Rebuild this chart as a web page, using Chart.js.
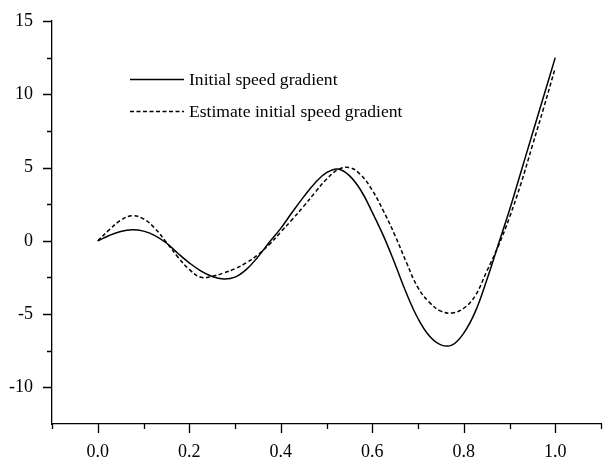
<!DOCTYPE html>
<html>
<head>
<meta charset="utf-8">
<script src="https://cdn.jsdelivr.net/npm/chart.js@4.4.1/dist/chart.umd.min.js"></script>
<style>
    html, body { margin: 0; padding: 0; background: #ffffff; }
    #wrap { width: 604px; height: 460px; }
</style>
</head>
<body>
<div id="wrap"><canvas id="chart" width="604" height="460"></canvas></div>
<script>
// x positions of the samples
const xValues = [
    0, 0.025, 0.05, 0.075, 0.1, 0.125, 0.15, 0.175, 0.2, 0.225,
    0.25, 0.275, 0.3, 0.325, 0.35, 0.375, 0.4, 0.425, 0.45, 0.475,
    0.5, 0.525, 0.55, 0.575, 0.6, 0.625, 0.65, 0.675, 0.7, 0.725,
    0.75, 0.775, 0.8, 0.825, 0.85, 0.875, 0.9, 0.925, 0.95, 0.975, 1.0
];

// solid curve
const initialGradient = [
    0, 0.36, 0.63, 0.75, 0.66, 0.36, -0.15, -0.85, -1.5, -2.05,
    -2.43, -2.6, -2.48, -1.95, -1.1, -0.1, 0.85, 1.95, 3.0, 3.95,
    4.65, 4.9, 4.45, 3.45, 1.95, 0.3, -1.6, -3.6, -5.3, -6.5,
    -7.1, -7.1, -6.3, -4.85, -2.7, -0.3, 2.1, 4.7, 7.3, 9.9, 12.5
];

// dashed curve
const estimateGradient = [
    0, 0.75, 1.4, 1.71, 1.5, 0.85, -0.1, -1.1, -1.95, -2.48,
    -2.42, -2.2, -1.9, -1.5, -0.95, -0.25, 0.6, 1.45, 2.35, 3.3,
    4.2, 4.85, 5.0, 4.5, 3.45, 2.0, 0.35, -1.5, -3.2, -4.2,
    -4.8, -4.92, -4.6, -3.75, -2.1, -0.4, 1.6, 3.9, 6.5, 9.1, 11.8
];

const seriesLabels = ['Initial speed gradient', 'Estimate initial speed gradient'];

// axis ranges and labelled ticks
const xRange = [-0.1, 1.1];
const yRange = [-12.5, 15];
const xTickLabels = ['0.0', '0.2', '0.4', '0.6', '0.8', '1.0'];
const yTickLabels = ['-10', '-5', '0', '5', '10', '15'];

const FONT = '"Liberation Serif", "Times New Roman", serif';

function toPoints(ys) {
    return xValues.map((x, i) => ({ x: x, y: ys[i] }));
}

// tick marks: long ones at labelled values, short ones in between
const tickMarks = {
    id: 'tickMarks',
    afterDraw: function(chart) {
        const ctx = chart.ctx;
        const xs = chart.scales.x;
        const ys = chart.scales.y;
        ctx.save();
        ctx.strokeStyle = '#000';
        ctx.lineWidth = 1.3;
        ctx.beginPath();
        xs.ticks.forEach(t => {
            const px = Math.round(xs.getPixelForValue(t.value)) + 0.5;
            const major = xTickLabels.includes(t.value.toFixed(1));
            ctx.moveTo(px, xs.top);
            ctx.lineTo(px, xs.top + (major ? 9 : 5));
        });
        ys.ticks.forEach(t => {
            if (t.value <= yRange[0]) return;
            const py = Math.round(ys.getPixelForValue(t.value)) + 0.5;
            const major = yTickLabels.includes(String(t.value));
            ctx.moveTo(ys.right, py);
            ctx.lineTo(ys.right - (major ? 9 : 5), py);
        });
        ctx.stroke();
        ctx.restore();
    }
};

// legend drawn inside the plot area
const insideLegend = {
    id: 'insideLegend',
    afterDraw: function(chart) {
        const ctx = chart.ctx;
        const rows = [79, 111];
        ctx.save();
        chart.data.datasets.forEach((ds, i) => {
            const y = rows[i] + 0.5;
            ctx.strokeStyle = ds.borderColor;
            ctx.lineWidth = ds.borderWidth;
            ctx.setLineDash(ds.borderDash || []);
            ctx.beginPath();
            ctx.moveTo(130, y);
            ctx.lineTo(184, y);
            ctx.stroke();
            ctx.setLineDash([]);
            ctx.fillStyle = '#000';
            ctx.font = '17.6px ' + FONT;
            ctx.textBaseline = 'middle';
            ctx.textAlign = 'left';
            ctx.fillText(ds.label, 189, rows[i] + 1);
        });
        ctx.restore();
    }
};

const ctx = document.getElementById('chart').getContext('2d');

new Chart(ctx, {
    type: 'line',
    data: {
        datasets: [{
            label: seriesLabels[0],
            data: toPoints(initialGradient),
            borderColor: '#000',
            borderWidth: 1.5,
            pointRadius: 0,
            tension: 0.4,
            fill: false
        }, {
            label: seriesLabels[1],
            data: toPoints(estimateGradient),
            borderColor: '#000',
            borderWidth: 1.5,
            borderDash: [4, 2.5],
            pointRadius: 0,
            tension: 0.4,
            fill: false
        }]
    },
    options: {
        responsive: false,
        animation: false,
        layout: {
            padding: { top: 21, right: 3, left: 0, bottom: 0 }
        },
        plugins: {
            legend: { display: false },
            tooltip: { enabled: false }
        },
        scales: {
            x: {
                type: 'linear',
                min: xRange[0],
                max: xRange[1],
                grid: { display: false, drawTicks: false },
                border: { display: true, color: '#000', width: 1.3 },
                ticks: {
                    stepSize: 0.1,
                    autoSkip: false,
                    maxRotation: 0,
                    padding: 17,
                    color: '#000',
                    font: { family: FONT, size: 18 },
                    callback: function(value) {
                        const s = value.toFixed(1);
                        return xTickLabels.includes(s) ? s : '';
                    }
                },
                afterFit: function(scale) {
                    scale.height = 36;
                    scale.paddingLeft = 0;
                    scale.paddingRight = 0;
                }
            },
            y: {
                min: yRange[0],
                max: yRange[1],
                grid: { display: false, drawTicks: false },
                border: { display: true, color: '#000', width: 1.3 },
                ticks: {
                    stepSize: 2.5,
                    autoSkip: false,
                    padding: 19,
                    color: '#000',
                    font: { family: FONT, size: 18 },
                    callback: function(value) {
                        const s = String(value);
                        return yTickLabels.includes(s) ? s : '';
                    }
                },
                afterFit: function(scale) {
                    scale.width = 52;
                    scale.paddingTop = 0;
                    scale.paddingBottom = 0;
                }
            }
        }
    },
    plugins: [tickMarks, insideLegend]
});
</script>
</body>
</html>
